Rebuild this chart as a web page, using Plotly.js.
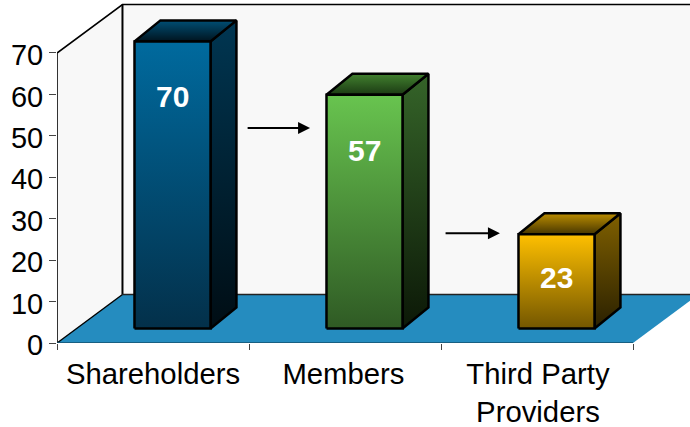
<!DOCTYPE html>
<html>
<head>
<meta charset="utf-8">
<script src="https://cdn.plot.ly/plotly-3.0.1.min.js"></script>
<style>html,body{margin:0;padding:0;background:#fff;overflow:hidden}</style>
</head>
<body>
<div id="chart" style="width:690px;height:427px"></div>
<script>
// Data
const categories = ['Shareholders', 'Members', 'Third Party<br>Providers'];
const values = [70, 57, 23];
const yTicks = [0, 10, 20, 30, 40, 50, 60, 70];

// Bar colours: [top of gradient, bottom of gradient]
const frontColors = [['#006a9e', '#03304a'], ['#68c44f', '#2f5a24'], ['#ffc000', '#735600']];
const topColors   = [['#004f75', '#00141f'], ['#42812f', '#1b3a13'], ['#bd8e00', '#473600']];
const sideColors  = [['#003652', '#000d14'], ['#356429', '#0c1807'], ['#806000', '#2a2000']];

// Fake-3D projection, expressed in axis units
const wallDx = 0.341, wallDy = 11.7;
const barDx = 0.135, barDy = 5.07;
const barOffset = 0.6016, barHalf = 0.198, barBase = 3.5, barScale = 0.99;
const xMax = 633 / 192, yMax = 343 / 4.143;
const FONT = '"Liberation Sans", Arial, sans-serif';

function poly(name, xs, ys, fill, lineColor, lineWidth) {
  const t = {
    type: 'scatter', mode: 'lines', name, x: xs.concat(xs[0]), y: ys.concat(ys[0]),
    fill: 'toself', hoverinfo: 'skip', showlegend: false,
    line: {color: lineColor || 'rgba(0,0,0,0)', width: lineWidth === undefined ? 2.5 : lineWidth, simplify: false}
  };
  if (Array.isArray(fill)) {
    t.fillcolor = fill[0];
    t.fillgradient = {type: 'vertical', colorscale: [[0, fill[1]], [1, fill[0]]]};
  } else t.fillcolor = fill;
  return t;
}
function seg(name, xs, ys, color, width) {
  return {type: 'scatter', mode: 'lines', name, x: xs, y: ys, hoverinfo: 'skip', showlegend: false,
    cliponaxis: false, line: {color, width}};
}

const traces = [];
// Walls and floor
const wallTop = 70 + wallDy;
traces.push(poly('back wall', [wallDx, xMax + 1, xMax + 1, wallDx], [wallDy, wallDy, wallTop, wallTop], '#f8f8f8', null, 0));
traces.push(poly('side wall', [0, wallDx, wallDx, 0], [0, wallDy, wallTop, 70], '#f8f8f8', null, 0));
traces.push(poly('floor', [0, 3, 3 + wallDx, wallDx], [0, 0, wallDy, wallDy], '#258cbf', null, 0));
traces.push(seg('wall edges', [0, 0, wallDx, xMax + 1], [0, 70, wallTop, wallTop], '#000', 1.6));
traces.push(seg('wall corner', [wallDx, wallDx], [wallDy, wallTop], '#000', 2));
traces.push(seg('floor back', [wallDx, xMax + 1], [wallDy, wallDy], '#222', 1.4));
traces.push(seg('floor left', [0, wallDx], [0, wallDy], '#000', 1.4));
traces.push(seg('floor front', [0, 3], [0, 0], '#14506e', 1.4));

// Bars
values.forEach((v, i) => {
  const c = i + barOffset, l = c - barHalf, r = c + barHalf;
  const top = barBase + v * barScale;
  traces.push(poly(categories[i] + ' side', [r, r + barDx, r + barDx, r],
    [barBase, barBase + barDy, top + barDy, top], sideColors[i], '#000'));
  traces.push(poly(categories[i] + ' top', [l, r, r + barDx, l + barDx],
    [top, top, top + barDy, top + barDy], topColors[i], '#000'));
  traces.push(poly(categories[i] + ' front', [l, r, r, l],
    [barBase, barBase, top, top], frontColors[i], '#000'));
});

// Value labels
traces.push({
  type: 'scatter', mode: 'text', name: 'values', hoverinfo: 'skip', showlegend: false,
  x: values.map((v, i) => i + 0.603),
  y: values.map(v => barBase + v * barScale - (v > 30 ? 14.1 : 11.1)),
  text: values.map(String), textposition: 'middle center',
  textfont: {family: FONT, size: 30, color: '#fff', weight: 700}
});

// Category ticks (between categories) on an overlay axis
traces.push({type: 'scatter', mode: 'markers', x: [0, 3], y: [0, 0], xaxis: 'x2', marker: {opacity: 0, size: 1}, hoverinfo: 'skip', showlegend: false});

const arrows = [[0.985, 1.318, 51.9], [2.016, 2.307, 26.5]].map(a => ({
  xref: 'x', yref: 'y', axref: 'x', ayref: 'y', x: a[1], y: a[2], ax: a[0], ay: a[2],
  text: '', showarrow: true, arrowhead: 2, arrowsize: 1.2, arrowwidth: 2, arrowcolor: '#000'
}));

Plotly.newPlot('chart', traces, {
  width: 690, height: 427, paper_bgcolor: '#fff', plot_bgcolor: '#fff',
  margin: {l: 57, r: 0, t: 0, b: 84, pad: 0},
  showlegend: false,
  font: {family: FONT, size: 29, color: '#000'},
  xaxis: {range: [0, xMax], tickmode: 'array', tickvals: [0.5, 1.492, 2.505], ticktext: categories,
    showgrid: false, zeroline: false, showline: false, ticks: 'outside', ticklen: 5, tickcolor: 'rgba(0,0,0,0)',
    tickfont: {family: FONT, size: 29.3, color: '#000'}, tickangle: 0, automargin: false},
  xaxis2: {range: [0, xMax], overlaying: 'x', anchor: 'y', side: 'bottom', tickmode: 'array', tickvals: [0, 1, 2, 3],
    ticktext: ['', '', '', ''], showgrid: false, zeroline: false, showline: false,
    ticks: 'outside', ticklen: 6, tickwidth: 1, tickcolor: '#444', automargin: false},
  yaxis: {range: [0, yMax], tickmode: 'array', tickvals: yTicks, showgrid: false, zeroline: false, showline: false,
    ticks: 'outside', ticklen: 7, tickwidth: 1, tickcolor: '#444', ticklabelshift: 2,
    tickfont: {family: FONT, size: 29, color: '#000'}, automargin: false},
  annotations: arrows
}, {displayModeBar: false, staticPlot: true});
</script>
</body>
</html>
